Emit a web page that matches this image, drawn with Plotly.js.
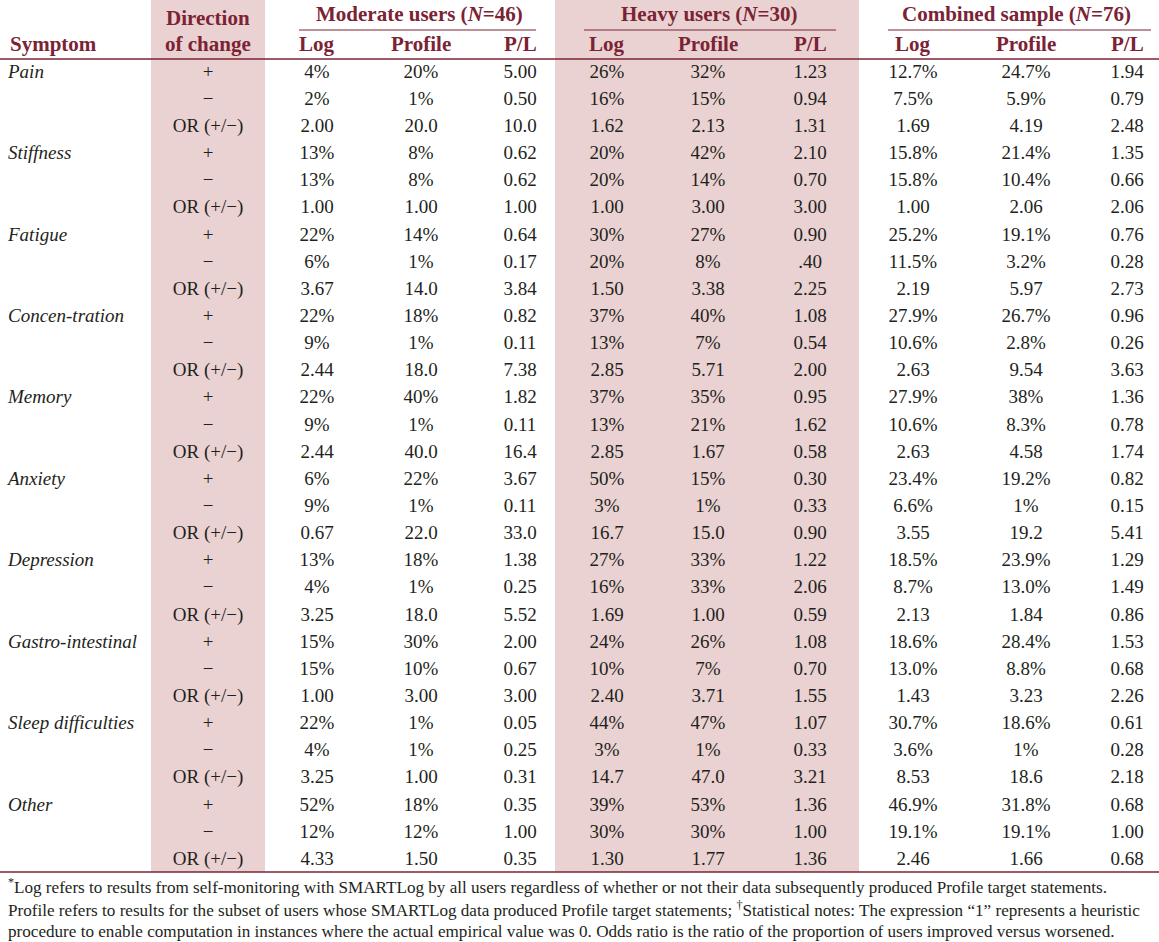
<!DOCTYPE html>
<html>
<head>
<meta charset="utf-8">
<script src="https://cdn.plot.ly/plotly-3.0.1.min.js"></script>
<style>html,body{margin:0;padding:0;background:#fff;}#chart{width:1159px;height:942px;}</style>
</head>
<body>
<div id="chart"></div>
<script>
// ---------------- DATA ----------------
const symptoms = ["Pain","Stiffness","Fatigue","Concen-tration","Memory","Anxiety","Depression","Gastro-intestinal","Sleep difficulties","Other"];
const directions = ["+","\u2212","OR (+/\u2212)"];
const groupTitles = ["Moderate users (<i>N</i>=46)","Heavy users (<i>N</i>=30)","Combined sample (<i>N</i>=76)"];
const subHeaders = ["Log","Profile","P/L"];

const modLog  = ["4%","2%","2.00","13%","13%","1.00","22%","6%","3.67","22%","9%","2.44","22%","9%","2.44","6%","9%","0.67","13%","4%","3.25","15%","15%","1.00","22%","4%","3.25","52%","12%","4.33"];
const modProf = ["20%","1%","20.0","8%","8%","1.00","14%","1%","14.0","18%","1%","18.0","40%","1%","40.0","22%","1%","22.0","18%","1%","18.0","30%","10%","3.00","1%","1%","1.00","18%","12%","1.50"];
const modPL   = ["5.00","0.50","10.0","0.62","0.62","1.00","0.64","0.17","3.84","0.82","0.11","7.38","1.82","0.11","16.4","3.67","0.11","33.0","1.38","0.25","5.52","2.00","0.67","3.00","0.05","0.25","0.31","0.35","1.00","0.35"];

const hvyLog  = ["26%","16%","1.62","20%","20%","1.00","30%","20%","1.50","37%","13%","2.85","37%","13%","2.85","50%","3%","16.7","27%","16%","1.69","24%","10%","2.40","44%","3%","14.7","39%","30%","1.30"];
const hvyProf = ["32%","15%","2.13","42%","14%","3.00","27%","8%","3.38","40%","7%","5.71","35%","21%","1.67","15%","1%","15.0","33%","33%","1.00","26%","7%","3.71","47%","1%","47.0","53%","30%","1.77"];
const hvyPL   = ["1.23","0.94","1.31","2.10","0.70","3.00","0.90",".40","2.25","1.08","0.54","2.00","0.95","1.62","0.58","0.30","0.33","0.90","1.22","2.06","0.59","1.08","0.70","1.55","1.07","0.33","3.21","1.36","1.00","1.36"];

const cmbLog  = ["12.7%","7.5%","1.69","15.8%","15.8%","1.00","25.2%","11.5%","2.19","27.9%","10.6%","2.63","27.9%","10.6%","2.63","23.4%","6.6%","3.55","18.5%","8.7%","2.13","18.6%","13.0%","1.43","30.7%","3.6%","8.53","46.9%","19.1%","2.46"];
const cmbProf = ["24.7%","5.9%","4.19","21.4%","10.4%","2.06","19.1%","3.2%","5.97","26.7%","2.8%","9.54","38%","8.3%","4.58","19.2%","1%","19.2","23.9%","13.0%","1.84","28.4%","8.8%","3.23","18.6%","1%","18.6","31.8%","19.1%","1.66"];
const cmbPL   = ["1.94","0.79","2.48","1.35","0.66","2.06","0.76","0.28","2.73","0.96","0.26","3.63","1.36","0.78","1.74","0.82","0.15","5.41","1.29","1.49","0.86","1.53","0.68","2.26","0.61","0.28","2.18","0.68","1.00","0.68"];

const footnotes = [
  "<sup>*</sup>Log refers to results from self-monitoring with SMARTLog by all users regardless of whether or not their data subsequently produced Profile target statements.",
  "Profile refers to results for the subset of users whose SMARTLog data produced Profile target statements; <sup>\u2020</sup>Statistical notes: The expression \u201c1\u201d represents a heuristic",
  "procedure to enable computation in instances where the actual empirical value was 0. Odds ratio is the ratio of the proportion of users improved versus worsened."
];

// ---------------- LAYOUT CONSTANTS ----------------
const W = 1159, H = 942;
const ROW0 = 73, ROWH = 27.14;
const py = p => (p - ROW0) / ROWH;
const FONT = "Liberation Serif";
const FN_FONT = "Liberation Serif";
const RED = "#7b2334";
const INK = "#231f20";
const SHADE = "#ead2d2";
const BODY = 19;
const colX = [317, 421, 520, 607, 708, 810, 913, 1026, 1127];
const dirX = 208, symX = 8;
const groupX = [419, 709, 1016];
const underl = [[299,536],[584,836],[888,1151]];

const nRows = symptoms.length * directions.length;
const rows = Array.from({length: nRows}, (_, i) => i);
const cols = [modLog, modProf, modPL, hvyLog, hvyProf, hvyPL, cmbLog, cmbProf, cmbPL];

const traces = [];
cols.forEach((c, k) => {
  traces.push({
    type: "scatter", mode: "text",
    x: rows.map(() => colX[k]), y: rows, text: c,
    textposition: "middle center",
    textfont: {family: FONT, size: BODY, color: INK},
    hoverinfo: "skip", showlegend: false
  });
});
traces.push({
  type: "scatter", mode: "text",
  x: rows.map(() => dirX), y: rows,
  text: rows.map(i => directions[i % 3]),
  textposition: "middle center",
  textfont: {family: FONT, size: BODY, color: INK},
  hoverinfo: "skip", showlegend: false
});
traces.push({
  type: "scatter", mode: "text",
  x: symptoms.map(() => symX), y: symptoms.map((s, i) => i * 3),
  text: symptoms.map(s => "<i>" + s + "</i>"),
  textposition: "middle right",
  textfont: {family: FONT, size: BODY, color: INK},
  hoverinfo: "skip", showlegend: false
});

function textW(s, size, fam) {
  const c = document.createElement("canvas").getContext("2d");
  c.font = size + "px " + fam;
  return c.measureText(s.replace(/<[^>]+>/g, "")).width;
}
const maxW = Math.max(...footnotes.map(f => textW(f, 100, FN_FONT)));
const fnSize = Math.min(17.5, 1136 / maxW * 100);

const shapes = [
  {type:"rect", xref:"x", yref:"y", x0:151, x1:265, y0:py(0), y1:py(872), fillcolor:SHADE, line:{width:0}, layer:"below"},
  {type:"rect", xref:"x", yref:"y", x0:555, x1:859, y0:py(0), y1:py(872), fillcolor:SHADE, line:{width:0}, layer:"below"},
  {type:"line", xref:"x", yref:"y", x0:0, x1:W, y0:py(59), y1:py(59), line:{color:RED, width:1.5}},
  {type:"line", xref:"x", yref:"y", x0:0, x1:W, y0:py(872), y1:py(872), line:{color:RED, width:1.5}}
];
underl.forEach(u => shapes.push({type:"line", xref:"x", yref:"y", x0:u[0], x1:u[1], y0:py(30), y1:py(30), line:{color:RED, width:1}}));

const hdrFont = {family: FONT, size: 21, color: RED};
const annotations = [
  {x: symX, y: py(44), text: "<b>Symptom</b>", xanchor:"left", yanchor:"middle", showarrow:false, font: hdrFont},
  {x: dirX, y: py(18), text: "<b>Direction</b>", xanchor:"center", yanchor:"middle", showarrow:false, font: hdrFont},
  {x: dirX, y: py(44), text: "<b>of change</b>", xanchor:"center", yanchor:"middle", showarrow:false, font: hdrFont}
];
groupTitles.forEach((g, k) => annotations.push({x: groupX[k], y: py(14), text: "<b>" + g + "</b>", xanchor:"center", yanchor:"middle", showarrow:false, font: hdrFont}));
colX.forEach((x, k) => annotations.push({x: x, y: py(44), text: "<b>" + subHeaders[k % 3] + "</b>", xanchor:"center", yanchor:"middle", showarrow:false, font: hdrFont}));
[886, 909, 931].forEach((p, k) => annotations.push({x: 6, y: py(p), text: footnotes[k], xanchor:"left", yanchor:"middle", showarrow:false, font: {family: FN_FONT, size: fnSize, color: INK}}));

const layout = {
  width: W, height: H,
  margin: {l:0, r:0, t:0, b:0, pad:0},
  paper_bgcolor: "#fff", plot_bgcolor: "#fff",
  xaxis: {range:[0, W], visible:false, fixedrange:true},
  yaxis: {range:[py(H), py(0)], visible:false, fixedrange:true},
  shapes: shapes, annotations: annotations, showlegend:false
};
Plotly.newPlot("chart", traces, layout, {staticPlot:true, displayModeBar:false});
</script>
</body>
</html>
